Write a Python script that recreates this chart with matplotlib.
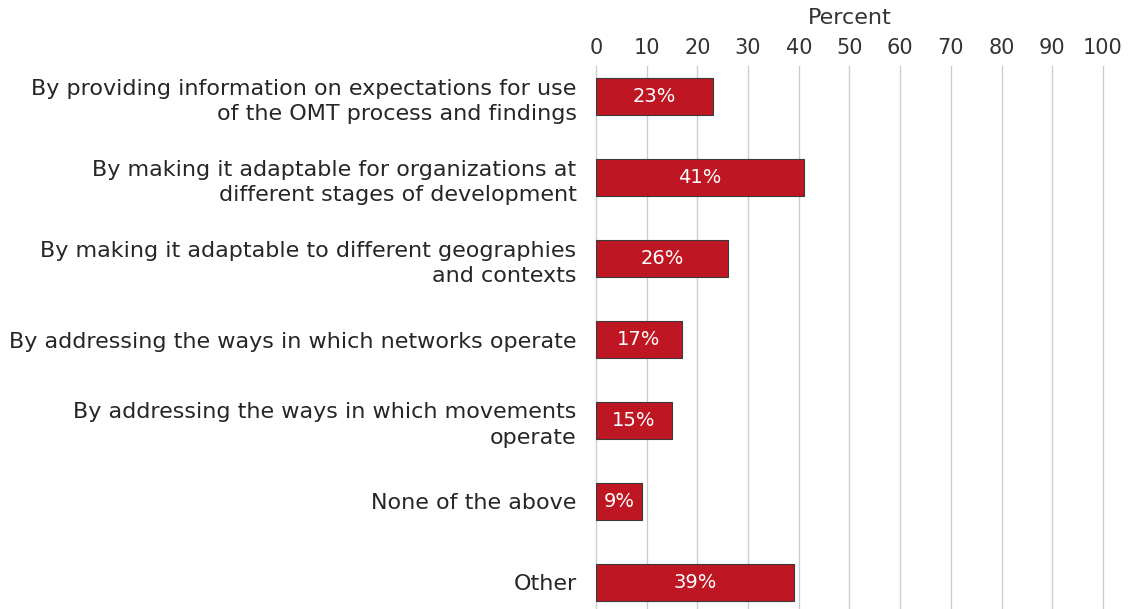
import matplotlib
matplotlib.use("Agg")
import matplotlib.pyplot as plt

categories = [
    "By providing information on expectations for use\nof the OMT process and findings",
    "By making it adaptable for organizations at\ndifferent stages of development",
    "By making it adaptable to different geographies\nand contexts",
    "By addressing the ways in which networks operate",
    "By addressing the ways in which movements\noperate",
    "None of the above",
    "Other",
]
values = [23, 41, 26, 17, 15, 9, 39]
ticks = list(range(0, 101, 10))

plt.rcParams['font.family'] = ['DejaVu Sans']

fig = plt.figure(figsize=(11.3, 6.09), dpi=100)
ax = fig.add_axes([0.5274, 0.0, 0.4487, 0.8916])

pos = list(range(len(categories)))
ax.barh(pos, values, height=0.46, color='#BE1622', edgecolor='#3a3a3a', linewidth=0.8, zorder=3)

for y, v in zip(pos, values):
    ax.text(v / 2, y, f"{v}%", ha='center', va='center', color='white',
            fontsize=14, zorder=4)

ax.set_xlim(0, 100)
ax.set_ylim(6.33, -0.38)
ax.set_xticks(ticks)
ax.set_yticks(pos)
ax.set_yticklabels(categories, fontsize=16, color='#262626', linespacing=1.35)
ax.xaxis.tick_top()
ax.xaxis.set_label_position('top')
ax.set_xlabel("Percent", fontsize=16, color='#333333', labelpad=10)
ax.tick_params(axis='x', length=0, labelsize=15, colors='#333333', pad=6)
ax.tick_params(axis='y', length=0, pad=14)
ax.grid(axis='x', color='#cccccc', linewidth=1, zorder=0)
for gl in ax.get_xgridlines():
    gl.set_clip_on(False)
for s in ax.spines.values():
    s.set_visible(False)

fig.savefig("out.png", dpi=100)
